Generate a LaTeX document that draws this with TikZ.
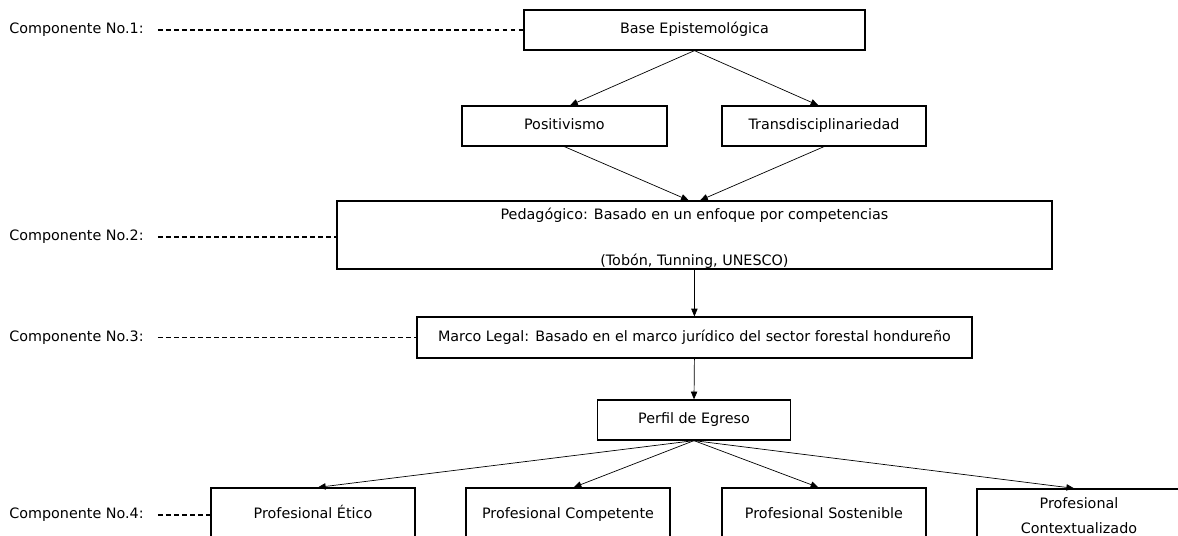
\documentclass[tikz,border=0pt]{standalone}
\usepackage{fontspec}
\setmainfont{DejaVu Sans}
\usepackage{tikz}
\usetikzlibrary{arrows.meta}
\tikzset{
         cajaalta/.style=
          {
           draw=black,
           line width=0.9pt,
           inner sep=2pt,
           minimum height=1cm,
           font=\fontsize{10.2pt}{12pt}\selectfont
          },
         caja/.style={cajaalta,text height=7.6pt,text depth=2.2pt},
         flecha/.style={line width=0.5pt,-{Triangle[length=5.5pt,width=4.5pt]}},
         guia/.style={line width=0.75pt,dash pattern=on 3.5pt off 2.2pt},
         etiqueta/.style={anchor=west,inner sep=0pt,font=\fontsize{10.2pt}{12pt}\selectfont}
        }

\begin{document}
\begin{tikzpicture}
\useasboundingbox (0,0) rectangle (29.45,13.4);
\node[caja,minimum width=8.525cm] (base) at (17.36,12.65) {Base Epistemológica};
\node[caja,minimum width=5.125cm] (posit) at (14.11,10.25) {Positivismo};
\node[caja,minimum width=5.1cm] (trans) at (20.6,10.25) {Transdisciplinariedad};
\node[cajaalta,minimum width=17.875cm,minimum height=1.7cm,inner ysep=0pt,align=center] (pedag) at (17.36,7.525) {\rule{0pt}{13.2pt}Pedagógico: Basado en un enfoque por competencias\\[21pt](Tobón, Tunning, UNESCO)};
\node[caja,minimum width=13.875cm,minimum height=1.025cm] (marco) at (17.36,4.96) {Marco Legal: Basado en el marco jurídico del sector forestal hondureño};
\node[caja,minimum width=4.84cm] (perfil) at (17.35,2.9) {Perfil de Egreso};

% perfiles
\node[caja,minimum width=5.1cm,minimum height=1.35cm] (etico) at (7.825,0.525) {Profesional Ético};
\node[caja,minimum width=5.1cm,minimum height=1.35cm] (compet) at (14.2,0.525) {Profesional Competente};
\node[caja,minimum width=5.1cm,minimum height=1.35cm] (sosten) at (20.6,0.525) {Profesional Sostenible};
\node[cajaalta,minimum width=5.1cm,minimum height=1.35cm,align=center] (contex) at (26.975,0.5) {Profesional\\[5.7pt]Contextualizado};

% flechas
\draw[flecha] (base.south) -- ([xshift=4pt]posit.north);
\draw[flecha] (base.south) -- ([xshift=-4pt]trans.north);
\draw[flecha] (posit.south) -- ([xshift=-4pt]pedag.north);
\draw[flecha] (trans.south) -- ([xshift=4pt]pedag.north);
\draw[flecha] (pedag.south) -- (marco.north);
\draw[flecha] (marco.south) -- (perfil.north);
\draw[flecha] (perfil.south) -- ([xshift=3.5pt]etico.north);
\draw[flecha] (perfil.south) -- ([xshift=4pt]compet.north);
\draw[flecha] (perfil.south) -- ([xshift=-4pt]sosten.north);
\draw[flecha] (perfil.south) -- ([xshift=-3.5pt]contex.north);

% componentes
\node[etiqueta] (comp1) at (0.225,12.65) {Componente No.1:};
\node[etiqueta] (comp2) at (0.225,7.475) {Componente No.2:};
\node[etiqueta] (comp3) at (0.225,4.96) {Componente No.3:};
\node[etiqueta] (comp4) at (0.225,0.525) {Componente No.4:};
\draw[guia] ([xshift=0.35cm]comp1.east) -- (base.west);
\draw[guia] ([xshift=0.35cm]comp2.east) -- (comp2.east -| pedag.west);
\draw[guia] ([xshift=0.35cm]comp3.east) -- (marco.west);
\draw[guia] ([xshift=0.35cm]comp4.east) -- (etico.west);
\end{tikzpicture}
\end{document}
